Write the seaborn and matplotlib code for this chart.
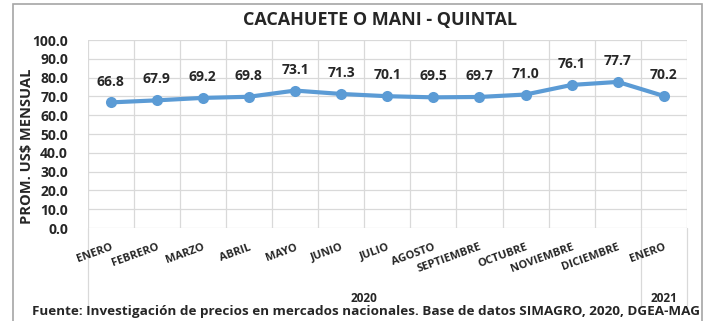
import numpy as np
import pandas as pd
import seaborn as sns
import matplotlib
matplotlib.use("Agg")
import matplotlib.pyplot as plt
from matplotlib.lines import Line2D
from matplotlib.patches import Rectangle

# Monthly average price data
months = ["ENERO", "FEBRERO", "MARZO", "ABRIL", "MAYO", "JUNIO", "JULIO",
          "AGOSTO", "SEPTIEMBRE", "OCTUBRE", "NOVIEMBRE", "DICIEMBRE", "ENERO"]
years = ["2020", "2021"]
months_per_year = [12, 1]
prices = [66.8, 67.9, 69.2, 69.8, 73.1, 71.3, 70.1, 69.5, 69.7, 71.0, 76.1, 77.7, 70.2]
y_ticks = [0, 10, 20, 30, 40, 50, 60, 70, 80, 90, 100]

title = "CACAHUETE O MANI - QUINTAL"
y_label = "PROM. US$ MENSUAL"
source = "Fuente: Investigación de precios en mercados nacionales. Base de datos SIMAGRO, 2020, DGEA-MAG"

df = pd.DataFrame({"idx": np.arange(len(prices)), "precio": prices})

sns.set_theme(style="white")
plt.rcParams["font.family"] = ["Open Sans", "DejaVu Sans"]
plt.rcParams["font.weight"] = "bold"

W, H = 705, 321
fig = plt.figure(figsize=(W / 100, H / 100), dpi=100)
ax = fig.add_axes([87.5 / W, 1 - 228 / H, (687 - 87.5) / W, (228 - 40) / H])

line_color = "#5B9BD5"
grid_color = "#D9D9D9"

sns.lineplot(data=df, x="idx", y="precio", ax=ax, color=line_color,
             linewidth=3, marker="o", markersize=8, markeredgewidth=0, zorder=3)

ax.set_xlim(-0.5, len(prices) - 0.5)
ax.set_ylim(0, 100)
ax.set_yticks(y_ticks)
ax.set_yticklabels([f"{v:.1f}" for v in y_ticks], fontsize=10, fontweight="bold")
ax.set_xticks(np.arange(len(prices)))
ax.set_xticklabels(months, rotation=20, ha="right", rotation_mode="anchor",
                   fontsize=8, fontweight="bold")
ax.tick_params(axis="x", length=0, pad=10)
ax.tick_params(axis="y", length=0, pad=14)
ax.set_xticks(np.arange(-0.5, len(prices)), minor=True)
ax.tick_params(axis="x", which="minor", length=0)

ax.grid(axis="y", which="major", color=grid_color, linewidth=0.9)
ax.grid(axis="x", which="minor", color=grid_color, linewidth=0.9)
ax.grid(axis="x", which="major", visible=False)
for s in ax.spines.values():
    s.set_visible(False)
ax.set_xlabel("")
ax.set_ylabel("")

# Value labels above each point
for i, v in enumerate(prices):
    ax.annotate(f"{v:.1f}", (i, v), xytext=(0, 10), textcoords="offset points",
                ha="center", va="bottom", fontsize=10, fontweight="bold")

# Year group separators extending below the category labels
drop = -(305 - 228) / (228 - 40)
bounds = np.concatenate([[0], np.cumsum(months_per_year)]) - 0.5
trans = ax.get_xaxis_transform()
for b in bounds:
    ax.add_line(Line2D([b, b], [0, drop], transform=trans, color=grid_color,
                       linewidth=0.9, clip_on=False, zorder=0.2))
year_y = -(298 - 228) / (228 - 40)
for k, yr in enumerate(years):
    ax.text((bounds[k] + bounds[k + 1]) / 2, year_y, yr, transform=trans,
            ha="center", va="center", fontsize=8.5, fontweight="bold")

fig.text(380 / W, 1 - 20 / H, title, ha="center", va="center",
         fontsize=13, fontweight="bold")
fig.text(27 / W, 1 - 146 / H, y_label, ha="center", va="center",
         rotation=90, fontsize=10.5, fontweight="bold")
fig.text(366 / W, 1 - 312 / H, source, ha="center", va="center",
         fontsize=9.7, fontweight="bold")

# Chart area border
fig.patches.append(Rectangle((12.5 / W, -0.05), (702 - 12.5) / W, 1.05 - 3.5 / H,
                             transform=fig.transFigure, fill=False,
                             edgecolor="#A6A6A6", linewidth=1.2))

fig.savefig("out.png", dpi=100)
